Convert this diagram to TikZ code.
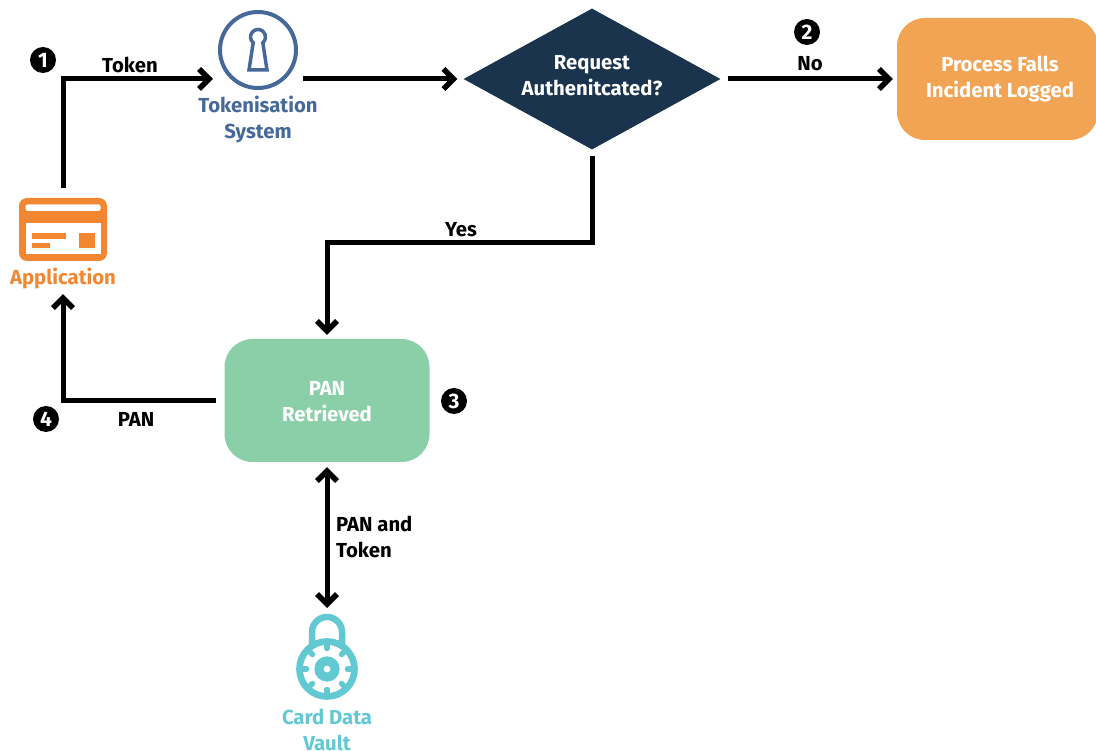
\documentclass[tikz,border=0pt]{standalone}
\usepackage{fontspec}
\setmainfont{Fira Sans}
\usetikzlibrary{arrows.meta,shapes.geometric,calc}
\definecolor{navy}{HTML}{1A344E}
\definecolor{cardorange}{HTML}{F38631}
\definecolor{boxorange}{HTML}{F2A455}
\definecolor{boxgreen}{HTML}{8BCFA8}
\definecolor{keyblue}{HTML}{46699A}
\definecolor{vaultteal}{HTML}{62C8D2}
\tikzset{
  tipstyle/.style={},
  conn/.style={line width=5pt,draw=black,-{Straight Barb[length=10pt,width=20pt,line width=5.5pt]}},
  both/.style={line width=5pt,draw=black,{Straight Barb[length=10pt,width=20pt,line width=5.5pt]}-{Straight Barb[length=10pt,width=20pt,line width=5.5pt]}},
  lbl/.style={font=\fontsize{20.3}{26}\selectfont\bfseries,align=center,inner sep=0pt,text=black},
  wlbl/.style={lbl,text=white},
  rbox/.style={draw=none,rounded corners=28pt,inner sep=0pt},
  badge/.style={circle,fill=black,text=white,minimum size=26pt,inner sep=0pt,font=\fontsize{21}{21}\selectfont\bfseries},
}
\begin{document}
\begin{tikzpicture}[x=1pt,y=-1pt]
\useasboundingbox (0,0) rectangle (1096,751);
% Application icon
\node[fill=cardorange,rounded corners=8pt,minimum width=88pt,minimum height=63pt,inner sep=0pt] (app) at (63,229.5) {};
\fill[white,rounded corners=2pt] (25.5,204.5) rectangle (100.5,211);
\fill[white] (25.5,222.7) rectangle (100.5,254);
\fill[cardorange] (32,233) rectangle (66,239);
\fill[cardorange] (32,243) rectangle (50,248);
\fill[cardorange] (79,233) rectangle (95,248);
\node[lbl,text=cardorange] (applbl) at (63,278.5) {Application};
% Tokenisation icon
\node[circle,draw=keyblue,line width=4pt,minimum size=76pt,inner sep=0pt] (tok) at (258,50) {};
\draw[keyblue,line width=3.5pt,line join=miter] (253.2,42.7) arc[start angle=130,end angle=410,radius=7.5] -- (267,70) -- (249,70) -- cycle;
\node[lbl,text=keyblue] (toklbl) at (258,120) {Tokenisation\\System};
% Decision
\node[diamond,fill=navy,minimum width=257pt,minimum height=141pt,inner sep=0pt,aspect=1.82] (dec) at (592,79) {};
\node[wlbl] (dectxt) at (592,76) {Request\\Authenitcated?};
% Process box
\node[rbox,fill=boxorange,minimum width=201pt,minimum height=122pt] (fail) at (997.5,79) {};
\node[wlbl] (failtxt) at (1000,79.5) {Process Falls\\Incident Logged};
% PAN box
\node[rbox,fill=boxgreen,minimum width=205pt,minimum height=123pt] (pan) at (327,400.5) {};
\node[wlbl] (pantxt) at (327,402) {PAN\\Retrieved};
% Vault icon
\node[circle,draw=vaultteal,line width=6.7pt,minimum size=55pt,inner sep=0pt] (vault) at (327,669) {};
\draw[vaultteal,line width=6.5pt] (312,645) -- (312,632) arc[start angle=180,end angle=360,radius=15] -- (342,645);
\foreach \a in {0,45,...,315}{\draw[vaultteal,line width=5.5pt,line cap=round] ($(327,669)+(\a:25)$) -- ($(327,669)+(\a:20.5)$);}
\fill[vaultteal] (327,669) circle[radius=12.7pt];
\fill[white] (327,669) circle[radius=3.4pt];
\node[lbl,text=vaultteal] (vaultlbl) at (327,729.5) {Card Data\\Vault};
% Connector waypoints
\coordinate (c1) at (63,79);
\coordinate (tokin) at (213,79);
\coordinate (tokout) at (303,79);
\coordinate (c2) at (592,243);
\coordinate (c3) at (327,243);
\coordinate (c4) at (63,401);
\coordinate (vtop) at (327,608);
\draw[conn,line join=miter,shorten <=10pt] (app.north) -- (c1) -- (tokin);
\draw[conn] (tokout) -- ($(dec.west)+(-6,0)$);
\draw[conn,shorten <=7pt,shorten >=4pt] (dec.east) -- (fail.west);
\draw[conn,line join=miter,shorten <=6pt,shorten >=4pt] (dec.south) -- (c2) -- (c3) -- (pan.north);
\draw[conn,line join=miter,shorten <=8pt] (pan.west |- c4) -- (c4) -- ($(applbl.south -| c4)+(0,5)$);
\draw[both,shorten <=5pt] (pan.south) -- (vtop);
% Labels
\node[lbl] (ltoken) at (130,64.5) {Token};
\node[lbl] (lno) at (810,64) {No};
\node[lbl] (lyes) at (461,229.5) {Yes};
\node[lbl] (lpan) at (136,419) {PAN};
\node[lbl,align=left,anchor=west] (lpt) at (336,537) {PAN and\\Token};
% Badges
\node[badge] (b1) at (43,60) {1};
\node[badge] (b2) at (807,32) {2};
\node[badge] (b3) at (454,401) {3};
\node[badge] (b4) at (46,419) {4};
\end{tikzpicture}
\end{document}
